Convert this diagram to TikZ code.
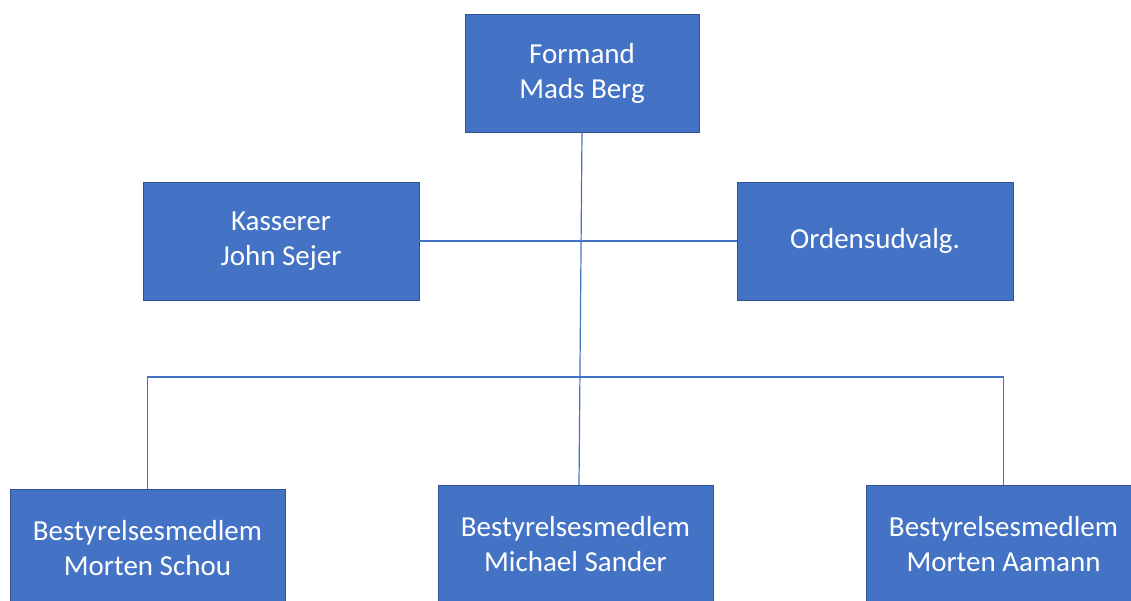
\documentclass[tikz,border=0pt]{standalone}
\usepackage{fontspec}
\setmainfont{Carlito}
\definecolor{boxfill}{HTML}{4472C4}
\definecolor{boxline}{HTML}{2F528F}
\definecolor{conn}{HTML}{4472C4}
\begin{document}
\begin{tikzpicture}[x=1pt,y=-1pt,
  orgbox/.style={draw=boxline,line width=0.8pt,fill=boxfill,text=white,
    minimum width=#1,minimum height=118pt,inner sep=0pt,align=center,
    font=\fontsize{29}{35}\selectfont},
  link/.style={draw=conn,line width=1.2pt}]
\useasboundingbox (0,0) rectangle (1131,601);
\clip (0,0) rectangle (1131,601);
\node[orgbox=234pt] (F) at (582,73) {Formand\\Mads Berg};
\node[orgbox=276pt] (K) at (281,241) {Kasserer\\John Sejer};
\node[orgbox=276pt] (O) at (875,241) {Ordensudvalg.};
\node[orgbox=275pt] (L) at (147.5,548) {Bestyrelsesmedlem\\Morten Schou};
\node[orgbox=275pt] (M) at (575.5,544) {Bestyrelsesmedlem\\Michael Sander};
\node[orgbox=275pt] (R) at (1003.5,544) {Bestyrelsesmedlem\\Morten Aamann};
\coordinate (mtop) at (579,485);
\coordinate (bar) at (148,377);
\draw[link] (F.south) -- (mtop);
\draw[link] (K.east) -- (O.west);
\draw[link] (L.north) -- (L.north |- bar) -| (R.north);
\end{tikzpicture}
\end{document}
